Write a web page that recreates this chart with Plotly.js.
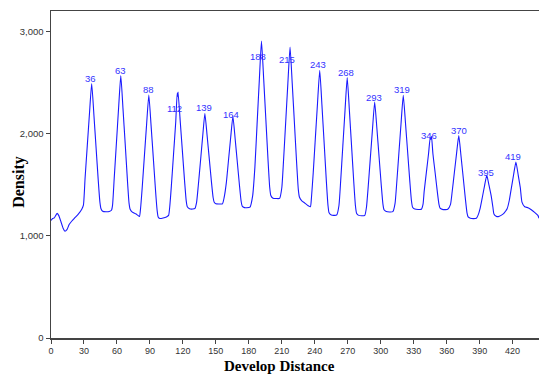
<!DOCTYPE html>
<html>
<head>
<meta charset="utf-8">
<script src="https://cdn.plot.ly/plotly-3.0.1.min.js"></script>
<style>html,body{margin:0;padding:0;background:#fff;}#chart{width:539px;height:375px;}</style>
</head>
<body>
<div id="chart"></div>
<script>
// Develop distance (x) and density (y)
var distance = [
  0, 1.5, 3, 5.5, 7, 9, 11, 12.7, 14.5, 16.5, 19, 22, 25, 28,
  29.5, 31, 33, 35, 37, 39, 41, 43, 44.5, 45.5, 47, 50, 53, 55,
  56, 57.5, 59.5, 61.5, 63.5, 65.5, 67.5, 69.5, 71, 72, 74, 77, 79, 80.5,
  81.5, 83, 85, 87, 89, 91, 93, 95, 96.5, 97.5, 99, 102, 105, 107,
  108, 109.5, 111.5, 113.5, 114.8, 115.2, 115.6, 117.5, 119.5, 121.5, 123, 124, 126, 129, 131,
  132.5, 134, 136, 138, 140, 142, 144, 146, 147.5, 148.5, 150, 153, 156,
  157.5, 159.5, 161.5, 163.5, 165.5, 167.5, 169.5, 171.5, 173, 174, 176, 178, 181,
  183.5, 185.5, 187.5, 189.5, 191.5, 193.5, 195.5, 197.5, 199, 200, 202, 205, 208,
  210, 211.5, 213.5, 215.5, 217.5, 219.5, 221.5, 223.5, 225, 226, 228, 231, 234, 236,
  237, 238.5, 240.5, 242.5, 244.5, 246.5, 248.5, 250.5, 252, 253, 255, 258, 260,
  262, 263.5, 265.5, 267.5, 269.5, 271.5, 273.5, 275.5, 277, 278, 280, 283, 285.5,
  287, 288.5, 290.5, 292.5, 294.5, 296.5, 298.5, 300.5, 302, 303, 305, 308, 311,
  313, 314.5, 316.5, 318.5, 320.5, 322.5, 324.5, 326.5, 328, 329, 331, 334, 337,
  338.5, 339.5, 341.5, 343.5, 345, 345.6, 346.2, 347.5, 349.5, 351.5, 353, 354, 356, 359, 361,
  363.5, 365, 367, 369, 371, 373, 375, 377, 378.5, 379.5, 381.5, 384.5, 387,
  388.5, 390.5, 392.5, 394.5, 396.5, 398.5, 400.5, 402, 403, 405, 407, 409.5, 412,
  413.5, 415, 417, 419, 421, 423, 425, 427, 428.5, 431, 434, 437, 440, 443, 444
];
var density = [
  1150, 1170, 1175, 1220, 1200, 1140, 1075, 1045, 1060, 1110, 1145, 1180, 1215, 1260,
  1300, 1563, 1880, 2197, 2490, 2190, 1865, 1540, 1330, 1265, 1240, 1235, 1238, 1250,
  1300, 1560, 1905, 2250, 2568, 2245, 1900, 1550, 1320, 1260, 1232, 1215, 1200, 1190,
  1270, 1475, 1785, 2093, 2378, 2088, 1775, 1460, 1255, 1185, 1170, 1175, 1185, 1200,
  1280, 1486, 1800, 2117, 2395, 2365, 2408, 2134, 1836, 1540, 1345, 1285, 1265, 1262, 1268,
  1330, 1490, 1730, 1973, 2197, 1985, 1755, 1525, 1375, 1328, 1314, 1312, 1313,
  1373, 1518, 1740, 1964, 2170, 1955, 1723, 1490, 1338, 1290, 1276, 1274, 1280,
  1394, 1670, 2093, 2516, 2906, 2536, 2135, 1735, 1473, 1395, 1368, 1365, 1366,
  1470, 1722, 2107, 2492, 2848, 2488, 2100, 1710, 1455, 1380, 1345, 1320, 1295, 1284,
  1378, 1605, 1952, 2300, 2620, 2280, 1910, 1540, 1300, 1225, 1203, 1200, 1205,
  1297, 1526, 1876, 2225, 2548, 2224, 1873, 1522, 1293, 1222, 1200, 1196, 1200,
  1278, 1466, 1755, 2044, 2310, 2052, 1772, 1493, 1310, 1255, 1238, 1233, 1236,
  1315, 1509, 1805, 2101, 2375, 2107, 1818, 1528, 1338, 1280, 1262, 1258, 1260,
  1310, 1432, 1618, 1803, 1960, 1945, 1975, 1800, 1617, 1430, 1308, 1270, 1259, 1256, 1260,
  1308, 1431, 1619, 1807, 1980, 1786, 1575, 1364, 1225, 1185, 1172, 1168, 1172,
  1200, 1272, 1380, 1492, 1593, 1495, 1390, 1284, 1214, 1192, 1188, 1200, 1219, 1240,
  1265, 1348, 1477, 1605, 1723, 1600, 1470, 1330, 1284, 1275, 1255, 1230, 1200, 1172, 1165
];
// Peak labels and where they sit
var peakLabels = ['36','63','88','112','139','164','188','215','243','268','293','319','346','370','395','419'];
var labelX = [36, 63, 89, 112, 139, 164, 188, 215, 243, 268, 293.5, 319.5, 343.5, 371, 395.5, 420];
var labelY = [2541, 2620, 2434, 2248, 2258, 2190, 2757, 2727, 2675, 2597, 2353, 2431, 1984, 2026, 1620, 1779];
var xTicks = [0, 30, 60, 90, 120, 150, 180, 210, 240, 270, 300, 330, 360, 390, 420];
var yTicks = [0, 1000, 2000, 3000];

var annotations = peakLabels.map(function (t, i) {
  return {
    x: labelX[i], y: labelY[i], xref: 'x', yref: 'y', text: t, showarrow: false,
    font: {family: 'Liberation Sans, Arial, sans-serif', size: 9.5, color: '#3333ff'},
    xanchor: 'center', yanchor: 'middle'
  };
});
annotations.push({
  x: 0.469, y: -0.112, xref: 'paper', yref: 'paper', text: '<b>Develop Distance</b>',
  showarrow: false, xanchor: 'center', yanchor: 'bottom', borderpad: 0,
  font: {family: 'Liberation Serif, Times New Roman, serif', size: 15, color: '#000'}
});
annotations.push({
  x: -0.066, y: 0.477, xref: 'paper', yref: 'paper', text: '<b>Density</b>',
  showarrow: false, xanchor: 'center', yanchor: 'middle', textangle: -90,
  font: {family: 'Liberation Serif, Times New Roman, serif', size: 16, color: '#000'}
});

var trace = {
  x: distance, y: density, type: 'scatter', mode: 'lines',
  line: {color: '#1a1aff', width: 1.1, shape: 'spline', smoothing: 0.5}, hoverinfo: 'none'
};

var layout = {
  width: 539, height: 375,
  margin: {l: 51, r: 0, t: 11, b: 37},
  paper_bgcolor: '#ffffff', plot_bgcolor: '#ffffff',
  showlegend: false,
  xaxis: {
    range: [0, 444], tickmode: 'array', tickvals: xTicks,
    ticks: 'outside', ticklen: 4, tickwidth: 1, tickcolor: '#444',
    showline: true, linecolor: '#444', linewidth: 1.5, mirror: true,
    showgrid: false, zeroline: false,
    tickfont: {family: 'Liberation Sans, Arial, sans-serif', size: 9, color: '#333'}
  },
  yaxis: {
    range: [0, 3200], tickmode: 'array', tickvals: yTicks, tickformat: ',d',
    ticks: 'outside', ticklen: 4, tickwidth: 1, tickcolor: '#444',
    showline: true, linecolor: '#444', linewidth: 1.5,
    showgrid: false, zeroline: false,
    tickfont: {family: 'Liberation Sans, Arial, sans-serif', size: 9.5, color: '#333'}
  },
  annotations: annotations
};

Plotly.newPlot('chart', [trace], layout, {staticPlot: true, displayModeBar: false});
</script>
</body>
</html>
